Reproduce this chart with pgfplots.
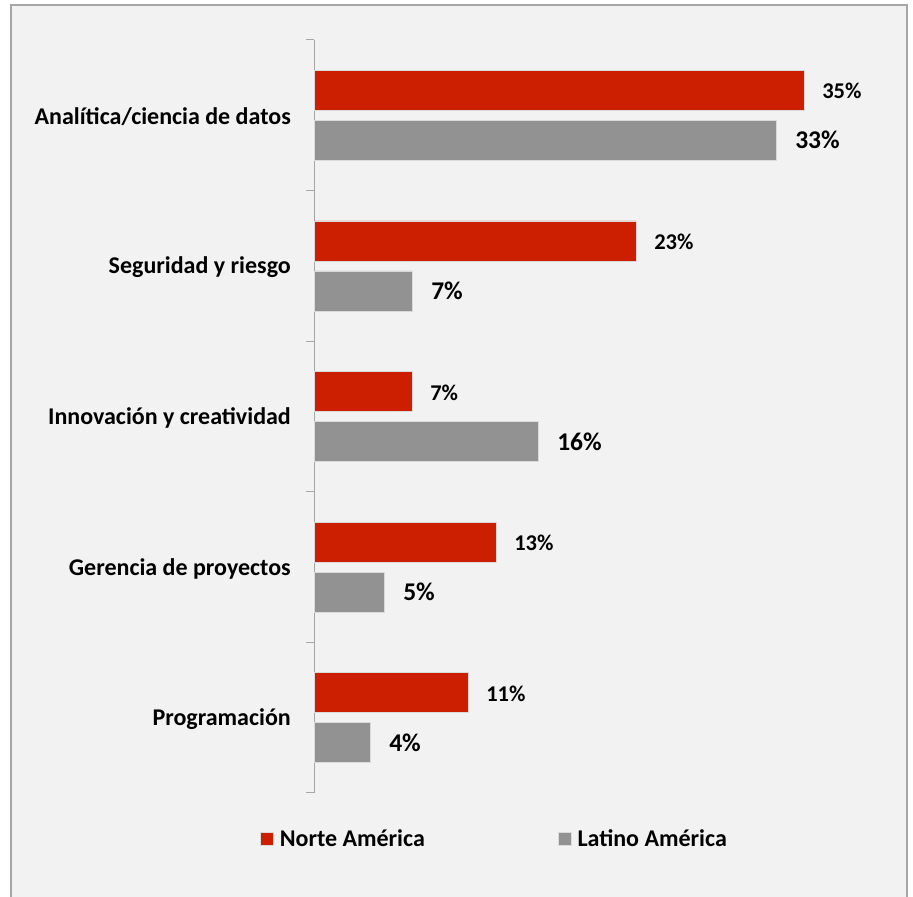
\documentclass[border=0pt]{standalone}
\usepackage{pgfplots}
\pgfplotsset{compat=1.18}
\usepackage{fontspec}
\setmainfont{Carlito}
\definecolor{bgc}{HTML}{F2F2F2}
\definecolor{bordc}{HTML}{A6A6A6}
\definecolor{axc}{HTML}{A6A6A6}
\definecolor{redc}{HTML}{CC1E00}
\definecolor{grayc}{HTML}{929292}
\definecolor{edgec}{HTML}{DADADA}
\begin{document}
\begin{tikzpicture}
\path[use as bounding box, fill=white] (0,0) rectangle (913bp,897bp);
\fill[bgc] (11bp,0) rectangle (907bp,892bp);
\draw[bordc, line width=1.5bp] (11bp,0) -- (11bp,892bp) -- (907bp,892bp) -- (907bp,0);
\begin{axis}[
  at={(314bp,104bp)}, anchor=south west,
  scale only axis, width=560bp, height=753bp,
  xbar, xmin=0, xmax=40, ymin=0.5, ymax=5.5,
  axis x line=none, axis y line*=left,
  axis line style={draw=axc, line width=1bp},
  ytick={1,2,3,4,5},
  yticklabels={Programación, Gerencia de proyectos, Innovación y creatividad, Seguridad y riesgo, Analítica/ciencia de datos},
  minor ytick={0.5,1.5,2.5,3.5,4.5,5.5},
  major tick length=0pt, minor tick length=8bp, tick align=outside,
  every tick/.style={draw=axc, line width=1bp},
  minor tick style={draw=axc, line width=1bp},
  yticklabel style={font=\fontsize{24bp}{28bp}\selectfont\bfseries, anchor=east, inner sep=0pt, xshift=-23bp, yshift=-1.5bp},
  clip=false,
  nodes near coords={\pgfmathprintnumber[assume math mode=true]{\pgfplotspointmeta}\%},
  nodes near coords style={anchor=west, inner sep=0pt},
  legend style={at={(-0.0964,-0.0611)}, anchor=west, draw=none, fill=none, inner sep=0pt,
    legend columns=2, font=\fontsize{24bp}{28bp}\selectfont\bfseries,
    nodes={inner sep=0pt},
    /tikz/every even column/.append style={column sep=133bp}},
  legend image code/.code={\fill[#1] (0bp,-6.5bp) rectangle (13bp,6.5bp); \path (19bp,0);},
]
\addplot[fill=redc, draw=edgec, line width=0.6bp, bar width=40bp, bar shift=25bp,
  every node near coord/.append style={font=\fontsize{22.5bp}{26bp}\selectfont\bfseries, xshift=18bp, yshift=-1bp}]
  coordinates {(11,1) (13,2) (7,3) (23,4) (35,5)};
\addlegendentry{Norte América}
\addplot[fill=grayc, draw=edgec, line width=0.6bp, bar width=40bp, bar shift=-25bp,
  every node near coord/.append style={font=\fontsize{25.5bp}{30bp}\selectfont\bfseries, xshift=19bp}]
  coordinates {(4,1) (5,2) (16,3) (7,4) (33,5)};
\addlegendentry{Latino América}
\end{axis}
\end{tikzpicture}
\end{document}
